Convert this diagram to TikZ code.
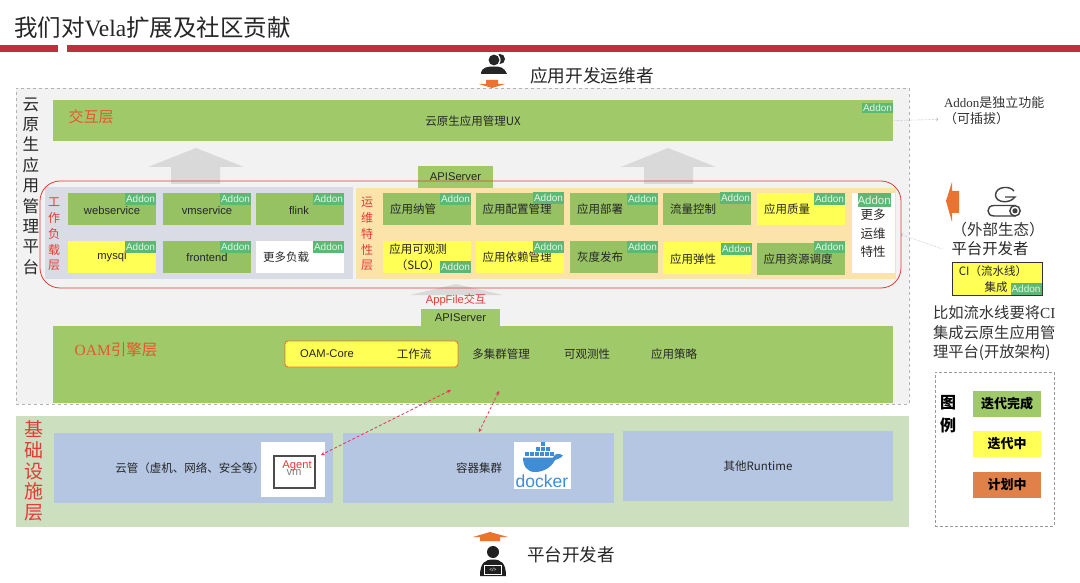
\documentclass[tikz,border=0pt]{standalone}
\usepackage{fontspec}
\setmainfont{Noto Sans CJK SC}
\newfontfamily\latinsans{Liberation Sans}
\newfontfamily\latinserif{Liberation Serif}
\newcommand{\fsize}[2]{\fontsize{#1}{#2}\selectfont}
\definecolor{leaf}{HTML}{A0CA6A}
\definecolor{leafcell}{HTML}{96C263}
\definecolor{addongreen}{HTML}{5CB872}
\definecolor{sun}{HTML}{FFFF55}
\definecolor{rust}{HTML}{E0814A}
\definecolor{sky}{HTML}{B5C6E3}
\definecolor{rulered}{HTML}{BE303D}
\definecolor{alert}{HTML}{E23C36}
\definecolor{ember}{HTML}{E4572E}
\definecolor{flame}{HTML}{EC7230}
\definecolor{whale}{HTML}{3F8DD6}
\definecolor{panelgrey}{HTML}{D9DCE4}
\definecolor{panelsand}{HTML}{FBE3A9}
\definecolor{infragreen}{HTML}{CCDFBE}
\definecolor{pointer}{HTML}{8F93B8}
\tikzset{
  plain/.style={inner sep=0pt, outer sep=0pt},
  sharp/.style={plain, draw=none, rectangle},
  cell/.style={sharp, minimum width=88pt, minimum height=32pt},
  greencell/.style={cell, fill=leafcell},
  yellowcell/.style={cell, fill=sun},
  whitecell/.style={cell, fill=white},
  caption/.style={plain, font=\fsize{11.5}{14}, text=black!85},
  latincaption/.style={plain, font=\latinsans\fsize{11.2}{14}, text=black!85},
  addon/.style={sharp, fill=addongreen, minimum width=31pt, minimum height=12pt,
    font=\latinsans\fsize{10}{12}, text=white!85!addongreen},
  sidehead/.style={plain, align=center, text=alert},
  legendbox/.style={sharp, minimum width=68pt, minimum height=26pt, font=\bfseries\fsize{13}{15}, text=black},
  sidetext/.style={plain, font=\fsize{15.3}{19.5}, text=black!80}
}
\begin{document}
\begin{tikzpicture}[x=1pt, y=-1pt]
  \useasboundingbox (0,0) rectangle (1080,583);
  \fill[white] (0,0) rectangle (1080,583);

  % title
  \node[plain, anchor=west, text=black!85] (title) at (14,28) {\fsize{23.5}{26}我们对{\latinserif Vela}扩展及社区贡献};
  \node[sharp, fill=rulered, minimum width=58pt, minimum height=7pt] (ruleleft) at (29,48.5) {};
  \node[sharp, fill=rulered, minimum width=1013pt, minimum height=7pt, anchor=west] (ruleright) at (67,48.5) {};

  % top actor
  \fill[black!85] (500,59) circle (5);
  \fill[white] (494,60) circle (6.6);
  \fill[black!85] (494,60) circle (5.4);
  \fill[black!85] (481,74) .. controls (481,67) and (488,66.5) .. (494,66.5) .. controls (500,66.5) and (504,67) .. (507,74) -- cycle;
  \fill[flame] (486,80) -- (498,80) -- (498,84) -- (505,84) -- (492,88) -- (479,84) -- (486,84) -- cycle;
  \node[plain, font=\fsize{17.7}{20}, text=black!85] (opslabel) at (592,75.5) {应用开发运维者};

  % platform
  \node[sharp, draw=black!30, dashed, fill=black!5, minimum width=893pt, minimum height=316pt, anchor=north west] (platform) at (16,88) {};
  \node[plain, align=center, font=\fsize{16.5}{20.4}, text=black!85] (platformlabel) at (31,186) {云\\原\\生\\应\\用\\管\\理\\平\\台};

  \node[sharp, fill=leaf, minimum width=840pt, minimum height=41pt, anchor=north west] (uxlayer) at (53,100) {};
  \node[plain, font=\fsize{15}{18}, text=ember] (uxname) at (91,117) {交互层};
  \node[caption] (uxtext) at (473,121) {云原生应用管理UX};
  \node[addon, minimum width=31pt, minimum height=10pt, font=\latinsans\fsize{10}{10}, anchor=north east] (addonux) at (893,103) {Addon};

  % grey arrows
  \fill[black!15] (196,148) -- (244,167) -- (220,167) -- (220,184) -- (171,184) -- (171,167) -- (148,167) -- cycle;
  \fill[black!15] (668,148) -- (716,167) -- (693,167) -- (693,184) -- (644,184) -- (644,167) -- (621,167) -- cycle;
  \fill[black!15] (456,284) -- (503,295) -- (410,295) -- cycle;

  \node[sharp, fill=leaf, minimum width=75pt, minimum height=22pt, latincaption] (apiservertop) at (455.5,177) {APIServer};

  % workload panel
  \node[sharp, fill=panelgrey, minimum width=308pt, minimum height=92pt, anchor=north west] (workloads) at (45,187) {};
  \node[sidehead, font=\fsize{12}{15.8}] (workloadlabel) at (54,234.5) {工\\作\\负\\载\\层};

  \node[greencell] (webservice) at (112,209) {};
  \node[latincaption] (webservicetext) at (112,210) {webservice};
  \node[addon, anchor=north east] (addonweb) at (156,193) {Addon};
  \node[greencell] (vmservice) at (207,209) {};
  \node[latincaption] (vmservicetext) at (207,210) {vmservice};
  \node[addon, anchor=north east] (addonvm) at (251,193) {Addon};
  \node[greencell] (flink) at (299.5,209) {};
  \node[latincaption] (flinktext) at (299,210) {flink};
  \node[addon, anchor=north east] (addonflink) at (344,193) {Addon};

  \node[yellowcell] (mysql) at (112,257) {};
  \node[latincaption] (mysqltext) at (112,257) {mysql};
  \node[addon, anchor=north east] (addonmysql) at (156,241) {Addon};
  \node[greencell] (frontend) at (207,257) {};
  \node[latincaption] (frontendtext) at (207,257) {frontend};
  \node[addon, anchor=north east] (addonfront) at (251,241) {Addon};
  \node[whitecell] (moreload) at (299.5,257) {};
  \node[caption] (moreloadtext) at (286,257) {更多负载};
  \node[addon, anchor=north east] (addonmoreload) at (344,241) {Addon};

  % traits panel
  \node[sharp, fill=panelsand, minimum width=540pt, minimum height=91pt, anchor=north west] (traits) at (356,188) {};
  \node[sidehead, font=\fsize{12}{15.9}] (traitslabel) at (367,234) {运\\维\\特\\性\\层};

  \node[greencell] (onboard) at (427,209) {};
  \node[caption] (onboardtext) at (413,209) {应用纳管};
  \node[addon, anchor=north east] (addononboard) at (471,193) {Addon};
  \node[greencell] (config) at (520,209) {};
  \node[caption] (configtext) at (517,209) {应用配置管理};
  \node[addon, anchor=north east] (addonconfig) at (564,192) {Addon};
  \node[greencell] (deploy) at (614,209) {};
  \node[caption] (deploytext) at (600,209) {应用部署};
  \node[addon, anchor=north east] (addondeploy) at (658,193) {Addon};
  \node[greencell] (traffic) at (707,209) {};
  \node[caption] (traffictext) at (693,209) {流量控制};
  \node[addon, anchor=north east] (addontraffic) at (751,192) {Addon};
  \node[yellowcell] (quality) at (800.5,209) {};
  \node[caption] (qualitytext) at (787,209) {应用质量};
  \node[addon, anchor=north east] (addonquality) at (845,193) {Addon};

  \node[yellowcell] (observe) at (427,257) {};
  \node[caption, align=center, font=\fsize{11.5}{16}] (observetext) at (418,257) {应用可观测\\（SLO）};
  \node[addon, anchor=south east] (addonobserve) at (471,273) {Addon};
  \node[yellowcell] (depend) at (520,257) {};
  \node[caption] (dependtext) at (517,257) {应用依赖管理};
  \node[addon, anchor=north east] (addondepend) at (564,241) {Addon};
  \node[greencell] (canary) at (614,257) {};
  \node[caption] (canarytext) at (600,257) {灰度发布};
  \node[addon, anchor=north east] (addoncanary) at (658,241) {Addon};
  \node[yellowcell] (scale) at (707,258) {};
  \node[caption] (scaletext) at (693,259) {应用弹性};
  \node[addon, anchor=north east] (addonscale) at (752,243) {Addon};
  \node[greencell] (resource) at (800.5,258.5) {};
  \node[caption] (resourcetext) at (798,259) {应用资源调度};
  \node[addon, anchor=north east] (addonresource) at (845,241) {Addon};

  \node[sharp, fill=white, minimum width=43pt, minimum height=80pt, anchor=north west] (moretraits) at (852,193) {};
  \node[plain, align=center, font=\fsize{12.5}{18.5}, text=black!85] (moretraitstext) at (873,233.5) {更多\\运维\\特性};
  \node[addon, minimum height=14pt, font=\latinsans\fsize{11.5}{14}, anchor=north west] (addonmore) at (857.5,193) {Addon};

  \node[plain, draw=alert, line width=0.8pt, rounded corners=20pt, minimum width=861pt, minimum height=107pt, anchor=north west] (traitring) at (40,181) {};

  % engine
  \node[plain, font=\latinsans\fsize{11.2}{14}, text=alert] (appfile) at (456,300) {AppFile{\rmfamily 交互}};
  \node[sharp, fill=leaf, minimum width=840pt, minimum height=77pt, anchor=north west] (oamlayer) at (53,326) {};
  \node[sharp, fill=leaf, minimum width=79pt, minimum height=17pt, latincaption] (apiserverlow) at (460.5,317.5) {APIServer};
  \node[plain, text=ember, font=\fsize{15.5}{18}] (oamname) at (116,350) {{\latinserif OAM}引擎层};
  \node[sharp, draw=flame, fill=sun, line width=0.9pt, rounded corners=3pt, minimum width=173pt, minimum height=26pt] (coregroup) at (371.5,354) {};
  \node[latincaption] (oamcore) at (327,354) {OAM-Core};
  \node[caption] (workflow) at (414,354) {工作流};
  \node[caption] (multicluster) at (501,354) {多集群管理};
  \node[caption] (observability) at (587,354) {可观测性};
  \node[caption] (policy) at (674,354) {应用策略};

  % infrastructure
  \node[sharp, fill=infragreen, minimum width=893pt, minimum height=111pt, anchor=north west] (infra) at (16,416) {};
  \node[sidehead, font=\fsize{19}{20.6}] (infralabel) at (34,471) {基\\础\\设\\施\\层};

  \node[sharp, fill=sky, minimum width=279pt, minimum height=70pt, anchor=north west] (cloud) at (54,433) {};
  \node[caption] (cloudtext) at (190,468) {云管（虚机、网络、安全等）};
  \node[sharp, fill=white, minimum width=64pt, minimum height=55pt, anchor=north west] (vmcard) at (261,442) {};
  \node[plain, draw=black!70, line width=1.3pt, minimum width=41pt, minimum height=32pt, anchor=north west] (vmframe) at (274,456) {};
  \node[plain, font=\latinsans\fsize{11.2}{14}, text=black!50] (vmtext) at (294,472) {vm};
  \node[plain, font=\latinsans\fsize{11.2}{14}, text=alert] (agent) at (297,466) {Agent};

  \node[sharp, fill=sky, minimum width=271pt, minimum height=70pt, anchor=north west] (cluster) at (343,433) {};
  \node[caption] (clustertext) at (479,468) {容器集群};
  \node[sharp, fill=white, minimum width=57pt, minimum height=47pt, anchor=north west] (dockercard) at (514,442) {};
  \foreach \cx/\cy in {543/444, 538/449, 543/449, 548/449, 527/454, 532/454, 537/454, 542/454, 547/454, 552/454}
    \fill[whale] (\cx-1.8,\cy-1.8) rectangle (\cx+1.8,\cy+1.8);
  \fill[whale] (523,457.5) -- (553,457.5) .. controls (555,453) and (559,453) .. (563,455.5) .. controls (560,459) and (557,459) .. (555,460) .. controls (551,468) and (543,472) .. (535,472) .. controls (527,472) and (523,466) .. (523,457.5) -- cycle;
  \node[plain, font=\latinsans\fsize{17.5}{20}, text=whale] (dockertext) at (542,481) {docker};

  \node[sharp, fill=sky, minimum width=270pt, minimum height=70pt, anchor=north west] (others) at (623,431) {};
  \node[caption] (otherstext) at (758,466) {其他Runtime};

  \coordinate (oamleft) at (451,390);
  \coordinate (oamright) at (499,391);
  \coordinate (clustertop) at (479,432);
  \coordinate (vmcorner) at (321,455);
  \draw[<->, >=stealth, densely dashed, draw=alert!80!magenta, line width=0.7pt] (oamleft) -- (vmcorner);
  \draw[<->, >=stealth, densely dashed, draw=alert!80!magenta, line width=0.7pt] (oamright) -- (clustertop);

  % bottom actor
  \fill[flame] (490,532) -- (508,537) -- (500,537) -- (500,541) -- (480,541) -- (480,537) -- (473,537) -- cycle;
  \fill[black!88] (493,552) circle (6);
  \fill[black!88] (480,576) .. controls (480,563) and (485,559.5) .. (493,559.5) .. controls (501,559.5) and (506,563) .. (506,576) -- cycle;
  \node[sharp, draw=white, line width=0.4pt, fill=black!88, minimum width=17pt, minimum height=9pt, font=\latinsans\fsize{5}{6}, text=white] (laptop) at (493,570) {</>};
  \node[plain, font=\fsize{17.6}{20}, text=black!85] (devlabel) at (571,555) {平台开发者};

  % right column
  \node[plain, align=left, font=\fsize{13}{16}, text=black!80, anchor=west] (addonnote) at (944,111) {{\latinserif Addon}是独立功能\\（可插拔）};
  \coordinate (notearrow) at (938,119.5);
  \draw[->, densely dotted, draw=pointer] (uxlayer.east) -- (notearrow);

  \fill[flame] (946,201) -- (952,182) -- (952,191) -- (959,191) -- (959,213) -- (952,213) -- (952,222) -- cycle;
  \draw[black!75, line width=1.4pt] (1014,191) .. controls (1010,185.5) and (996,186) .. (995.5,195) .. controls (995.5,203) and (1010,204) .. (1015,197) -- (1005,197);
  \draw[black!75, line width=1.4pt] (1015,205.5) -- (994,205.5) .. controls (986,205.5) and (986,216) .. (994,216) -- (1015,216);
  \draw[black!75, line width=1.4pt] (1015,210.8) circle (5.2);
  \fill[black!75] (1015,210.8) circle (2.6);

  \node[plain, font=\fsize{15.5}{18}, text=black!80] (ecosystem) at (998,230) {（外部生态）};
  \node[plain, font=\fsize{15.4}{18}, text=black!85] (platformdev) at (990,249) {平台开发者};
  \draw[->, densely dotted, draw=pointer] ([xshift=-9pt]platformdev.west) -- (traitring.east);

  \node[sharp, draw=black!80, fill=sun, line width=1pt, minimum width=90pt, minimum height=33pt, anchor=north west] (cibox) at (952,262) {};
  \node[caption] (citext) at (993,271) {CI（流水线）};
  \node[caption] (citext2) at (996,287) {集成};
  \node[addon, anchor=south east] (addonci) at (1041.5,294.5) {Addon};

  \node[sidetext, align=left, anchor=north west] (opennote) at (933,306) {比如流水线要将{\latinserif CI}\\集成云原生应用管\\理平台(开放架构)};

  % legend
  \node[plain, draw=black!40, densely dashed, minimum width=119pt, minimum height=154pt, anchor=north west] (legend) at (935,372) {};
  \node[plain, align=center, font=\bfseries\fsize{16}{23}, text=black] (legendname) at (948,414.5) {图\\例};
  \node[legendbox, fill=leaf] (legenddone) at (1007,404) {迭代完成};
  \node[legendbox, fill=sun] (legendwip) at (1007,444) {迭代中};
  \node[legendbox, fill=rust] (legendplan) at (1007,484.5) {计划中};
\end{tikzpicture}
\end{document}
